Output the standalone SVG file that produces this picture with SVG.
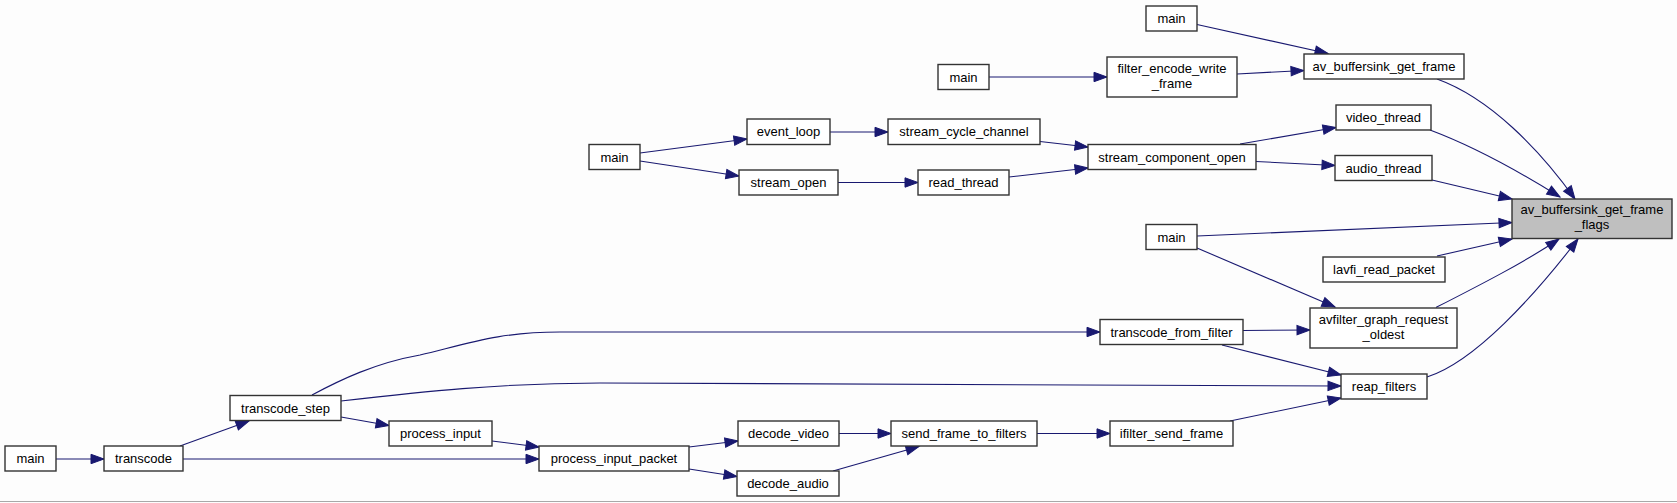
<svg xmlns="http://www.w3.org/2000/svg" width="1677" height="503" viewBox="0 0 1677 503">
<defs>
<marker id="ah" markerUnits="userSpaceOnUse" markerWidth="14" markerHeight="11" refX="13" refY="5" orient="auto" overflow="visible">
<path d="M0,0.3 L13,5 L0,9.7 z" fill="#191970" stroke="#191970" stroke-width="1"/>
</marker>
</defs>
<style>
.n rect{fill:#ffffff;stroke:#333333;stroke-width:1.4}
.n.t rect{fill:#bfbfbf}
.n text{font-family:"Liberation Sans",Arial,sans-serif;font-size:13px;fill:#000;text-anchor:middle}
#edges path{fill:none;stroke:#191970;stroke-width:1.1;marker-end:url(#ah)}
</style>
<rect x="0" y="0" width="1677" height="503" fill="#fdfdfd"/>
<line x1="0" y1="501.5" x2="1677" y2="501.5" stroke="#a8a8a8" stroke-width="1.2"/>
<g id="edges">
<path d="M56,459 L104,459"/>
<path d="M180,446 L249,421"/>
<path d="M183,459 L539,459"/>
<path d="M341,417 L389,425.5"/>
<path d="M492,441 L539,447"/>
<path d="M689,447 L738,441"/>
<path d="M689,469 L737,476.5"/>
<path d="M839,433.5 L891,433.5"/>
<path d="M833,471 L919,446.5"/>
<path d="M1037,433.5 L1110,433.5"/>
<path d="M1230,421 L1341,398"/>
<path d="M312,395 C340,380 375,363 420,355 C470,343 500,332 560,332 L1100,332"/>
<path d="M341,401 C420,392 500,383 600,383 C900,383 1200,385 1341,386"/>
<path d="M1243,330.5 L1310,330"/>
<path d="M1222,345 L1341,375"/>
<path d="M1197,248 L1335,307"/>
<path d="M1197,236 L1512,222.5"/>
<path d="M640,153 L747,139"/>
<path d="M640,161 L739,176"/>
<path d="M830,132 L888,132"/>
<path d="M838,182.5 L918,182.5"/>
<path d="M1040,141.5 L1088,147"/>
<path d="M1009,177 L1088,168"/>
<path d="M1240,144 L1336,127.5"/>
<path d="M1256,161.5 L1335,165.5"/>
<path d="M1197,24.5 L1328,53.5"/>
<path d="M989,77 L1107,77"/>
<path d="M1237,74 L1304,70.5"/>
<path d="M1437,79 C1490,98 1540,150 1575,199"/>
<path d="M1430,130 C1470,145 1520,172 1560,197"/>
<path d="M1432,180 L1512,199"/>
<path d="M1437,256 L1512,239"/>
<path d="M1436,307.5 C1480,285 1525,262 1559,239"/>
<path d="M1427,377 C1475,362 1535,295 1578,239"/>
</g>
<g id="n_main_t" class="n"><rect x="5" y="446" width="51" height="25"/><text x="30.5" y="463">main</text></g>
<g id="n_transcode" class="n"><rect x="104" y="446" width="79" height="25"/><text x="143.5" y="463">transcode</text></g>
<g id="n_transcode_step" class="n"><rect x="230" y="395.5" width="111" height="25"/><text x="285.5" y="412.5">transcode_step</text></g>
<g id="n_process_input" class="n"><rect x="389" y="421" width="103" height="25"/><text x="440.5" y="438">process_input</text></g>
<g id="n_process_input_packet" class="n"><rect x="539" y="446" width="150" height="25"/><text x="614" y="463">process_input_packet</text></g>
<g id="n_decode_video" class="n"><rect x="738" y="421" width="101" height="25"/><text x="788.5" y="438">decode_video</text></g>
<g id="n_decode_audio" class="n"><rect x="737" y="471" width="102" height="25"/><text x="788" y="488">decode_audio</text></g>
<g id="n_send_frame_to_filters" class="n"><rect x="891" y="421" width="146" height="25"/><text x="964" y="438">send_frame_to_filters</text></g>
<g id="n_ifilter_send_frame" class="n"><rect x="1110" y="421" width="123" height="25"/><text x="1171.5" y="438">ifilter_send_frame</text></g>
<g id="n_main_ffplay" class="n"><rect x="589" y="144.5" width="51" height="25"/><text x="614.5" y="161.5">main</text></g>
<g id="n_event_loop" class="n"><rect x="747" y="119" width="83" height="25.5"/><text x="788.5" y="136.2">event_loop</text></g>
<g id="n_stream_open" class="n"><rect x="739" y="170" width="99" height="25"/><text x="788.5" y="187">stream_open</text></g>
<g id="n_stream_cycle_channel" class="n"><rect x="888" y="119" width="152" height="25.5"/><text x="964" y="136.2">stream_cycle_channel</text></g>
<g id="n_read_thread" class="n"><rect x="918" y="170" width="91" height="25"/><text x="963.5" y="187">read_thread</text></g>
<g id="n_stream_component_open" class="n"><rect x="1088" y="144.5" width="168" height="25"/><text x="1172" y="161.5">stream_component_open</text></g>
<g id="n_main_a" class="n"><rect x="1146" y="6" width="51" height="25"/><text x="1171.5" y="23">main</text></g>
<g id="n_main_b" class="n"><rect x="938" y="64.5" width="51" height="25"/><text x="963.5" y="81.5">main</text></g>
<g id="n_filter_encode_write_frame" class="n"><rect x="1107" y="57" width="130" height="40"/><text x="1172" y="72.8">filter_encode_write</text><text x="1172" y="87.8">_frame</text></g>
<g id="n_av_buffersink_get_frame" class="n"><rect x="1304" y="54" width="160" height="25"/><text x="1384" y="71">av_buffersink_get_frame</text></g>
<g id="n_video_thread" class="n"><rect x="1336" y="105" width="95" height="25"/><text x="1383.5" y="122">video_thread</text></g>
<g id="n_audio_thread" class="n"><rect x="1335" y="155.5" width="97" height="25"/><text x="1383.5" y="172.5">audio_thread</text></g>
<g id="n_main_c" class="n"><rect x="1146" y="224.5" width="51" height="25"/><text x="1171.5" y="241.5">main</text></g>
<g id="n_lavfi_read_packet" class="n"><rect x="1323" y="257" width="122" height="25"/><text x="1384" y="274">lavfi_read_packet</text></g>
<g id="n_avfilter_graph_request_oldest" class="n"><rect x="1310" y="308" width="147" height="40"/><text x="1383.5" y="323.6">avfilter_graph_request</text><text x="1383.5" y="338.6">_oldest</text></g>
<g id="n_transcode_from_filter" class="n"><rect x="1100" y="319.5" width="143" height="25"/><text x="1171.5" y="336.5">transcode_from_filter</text></g>
<g id="n_reap_filters" class="n"><rect x="1341" y="374" width="86" height="25"/><text x="1384" y="391">reap_filters</text></g>
<g id="n_av_buffersink_get_frame_flags" class="n t"><rect x="1512" y="199" width="160" height="39.5"/><text x="1592" y="214.3">av_buffersink_get_frame</text><text x="1592" y="229.3">_flags</text></g>
</svg>
